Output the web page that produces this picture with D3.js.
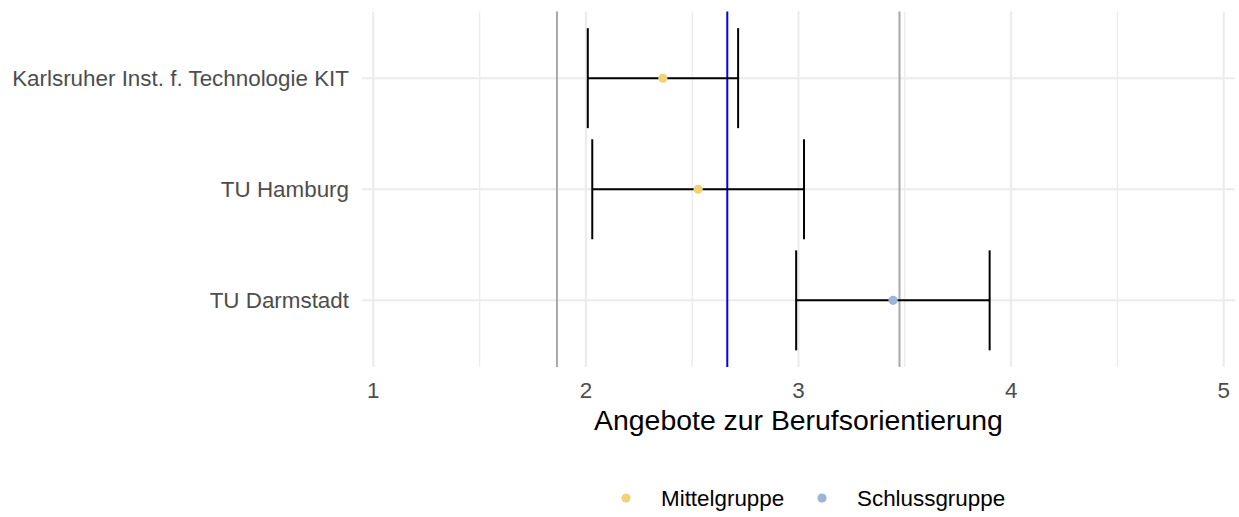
<!DOCTYPE html>
<html><head><meta charset="utf-8">
<script src="https://cdn.jsdelivr.net/npm/d3@7"></script>
<style>body{margin:0;background:#fff}svg{display:block;font-family:"Liberation Sans",Arial,sans-serif}</style>
</head><body>
<svg id="c" width="1239" height="517"></svg>
<script>
const categories = ["Karlsruher Inst. f. Technologie KIT", "TU Hamburg", "TU Darmstadt"];
const groups = ["Mittelgruppe", "Mittelgruppe", "Schlussgruppe"];
const means = [2.362, 2.528, 3.445];
const lower = [2.009, 2.030, 2.989];
const upper = [2.716, 3.026, 3.899];
const refLines = [1.864, 3.475];
const blueLine = [2.665];
const xTicks = [1, 2, 3, 4, 5];
const xMinor = [1.5, 2.5, 3.5, 4.5];
const legendLabels = ["Mittelgruppe", "Schlussgruppe"];
const legendColors = ["#F1D279", "#9DB4D8"];

const svg = d3.select("#c");
const panel = {left: 362, right: 1235, top: 11.5, bottom: 367};
const x = d3.scaleLinear().domain([0.947, 5.053]).range([panel.left, panel.right]);
const y = d3.scalePoint().domain(categories).range([panel.top, panel.bottom]).padding(0.6);
const color = d3.scaleOrdinal().domain(legendLabels).range(legendColors);
const capHalf = 50;

const g = svg.append("g");
// grid
g.selectAll(".minor").data(xMinor).join("line")
  .attr("x1", d => x(d)).attr("x2", d => x(d)).attr("y1", panel.top).attr("y2", panel.bottom)
  .attr("stroke", "#ebebeb").attr("stroke-width", 1.3);
g.selectAll(".major").data(xTicks).join("line")
  .attr("x1", d => x(d)).attr("x2", d => x(d)).attr("y1", panel.top).attr("y2", panel.bottom)
  .attr("stroke", "#ebebeb").attr("stroke-width", 2);
g.selectAll(".hgrid").data(categories).join("line")
  .attr("x1", panel.left).attr("x2", panel.right).attr("y1", d => y(d)).attr("y2", d => y(d))
  .attr("stroke", "#ebebeb").attr("stroke-width", 2);

// reference lines
g.selectAll(".ref").data(refLines).join("line")
  .attr("x1", d => x(d)).attr("x2", d => x(d)).attr("y1", panel.top).attr("y2", panel.bottom)
  .attr("stroke", "#a9a9a9").attr("stroke-width", 2);
g.selectAll(".blue").data(blueLine).join("line")
  .attr("x1", d => x(d)).attr("x2", d => x(d)).attr("y1", panel.top).attr("y2", panel.bottom)
  .attr("stroke", "#0000ff").attr("stroke-width", 2);

// error bars
const rows = categories.map((c, i) => ({c, m: means[i], lo: lower[i], hi: upper[i], grp: groups[i]}));
const eb = g.selectAll(".eb").data(rows).join("g");
eb.append("line").attr("x1", d => x(d.lo)).attr("x2", d => x(d.hi))
  .attr("y1", d => y(d.c)).attr("y2", d => y(d.c)).attr("stroke", "#000").attr("stroke-width", 2);
eb.append("line").attr("x1", d => x(d.lo)).attr("x2", d => x(d.lo))
  .attr("y1", d => y(d.c) - capHalf).attr("y2", d => y(d.c) + capHalf).attr("stroke", "#000").attr("stroke-width", 2);
eb.append("line").attr("x1", d => x(d.hi)).attr("x2", d => x(d.hi))
  .attr("y1", d => y(d.c) - capHalf).attr("y2", d => y(d.c) + capHalf).attr("stroke", "#000").attr("stroke-width", 2);
eb.append("circle").attr("cx", d => x(d.m)).attr("cy", d => y(d.c)).attr("r", 4.6)
  .attr("fill", d => color(d.grp));

// x axis labels
svg.selectAll(".xt").data(xTicks).join("text")
  .attr("x", d => x(d)).attr("y", 398).attr("text-anchor", "middle")
  .attr("font-size", 22.4).attr("fill", "#4d4d4d").text(d => d);
// y labels
svg.selectAll(".yt").data(categories).join("text")
  .attr("x", 349).attr("y", d => y(d)).attr("dy", "0.36em").attr("text-anchor", "end")
  .attr("font-size", 22.4).attr("fill", "#4d4d4d").text(d => d);
// axis title
svg.append("text").attr("x", (x(1) + x(5)) / 2).attr("y", 430).attr("text-anchor", "middle")
  .attr("font-size", 28.4).attr("fill", "#000").text("Angebote zur Berufsorientierung");

// legend
const legX = [626, 822];
const lg = svg.selectAll(".lg").data(legendLabels).join("g")
  .attr("transform", (d, i) => `translate(${legX[i]},498)`);
lg.append("circle").attr("r", 4.6).attr("fill", d => color(d));
lg.append("text").attr("x", 35).attr("dy", "0.36em").attr("font-size", 22.4).attr("fill", "#000").text(d => d);
</script>
</body></html>
